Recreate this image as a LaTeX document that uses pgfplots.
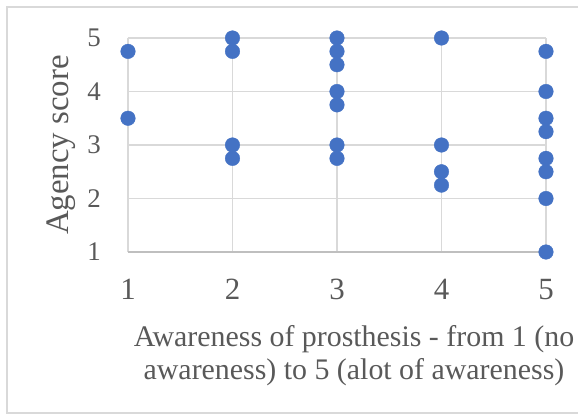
\documentclass[border=0pt]{standalone}
\usepackage{pgfplots}
\pgfplotsset{compat=1.18}
\usepackage{fontspec}
\setmainfont{Liberation Serif}
\definecolor{txtgray}{HTML}{595959}
\definecolor{gridgray}{HTML}{D9D9D9}
\definecolor{axisgray}{HTML}{BFBFBF}
\definecolor{dotblue}{HTML}{4472C4}
\begin{document}
\begin{tikzpicture}
\useasboundingbox (-128bp,-163bp) rectangle (450bp,252bp);
\draw[gridgray, line width=1.2bp] (-121bp,245bp) rectangle (470bp,-161bp);
\begin{axis}[
  at={(0,0)}, anchor=south west,
  scale only axis, width=418bp, height=214bp,
  xmin=1, xmax=5, ymin=1, ymax=5,
  xtick={1,2,3,4,5}, ytick={1,2,3,4,5},
  clip=false,
  axis line style={draw=none},
  major tick length=0pt,
  grid=major,
  major grid style={gridgray, line width=1.2bp},
  /pgf/number format/assume math mode=true,
  xticklabel style={font=\fontsize{31}{36}\selectfont, text=txtgray, anchor=north, inner sep=0pt, yshift=-27bp},
  yticklabel style={font=\fontsize{27}{32}\selectfont, text=txtgray, anchor=east, inner sep=0pt, xshift=-27bp},
  xlabel={Awareness of prosthesis - from 1 (no\\awareness) to 5 (alot of awareness)},
  xlabel style={font=\fontsize{30}{33}\selectfont, text=txtgray, align=center, inner sep=0pt, anchor=north, at={(axis description cs:0.5407,-0.3435)}},
  ylabel={Agency score},
  ylabel style={font=\fontsize{33}{38}\selectfont, text=txtgray, inner sep=0pt, anchor=base, at={(axis description cs:-0.1423,0.5)}},
]
\draw[axisgray, line width=1.2bp] (axis cs:1,1) -- (axis cs:5,1);
\addplot[only marks, mark=*, mark size=7.3bp, mark options={fill=dotblue, draw=dotblue}] table {
x y
1 4.75
1 3.5
2 5
2 4.75
2 3
2 2.75
3 5
3 4.75
3 4.5
3 4
3 3.75
3 3
3 2.75
4 5
4 3
4 2.5
4 2.25
5 4.75
5 4
5 3.5
5 3.25
5 2.75
5 2.5
5 2
5 1
};
\end{axis}
\end{tikzpicture}
\end{document}
